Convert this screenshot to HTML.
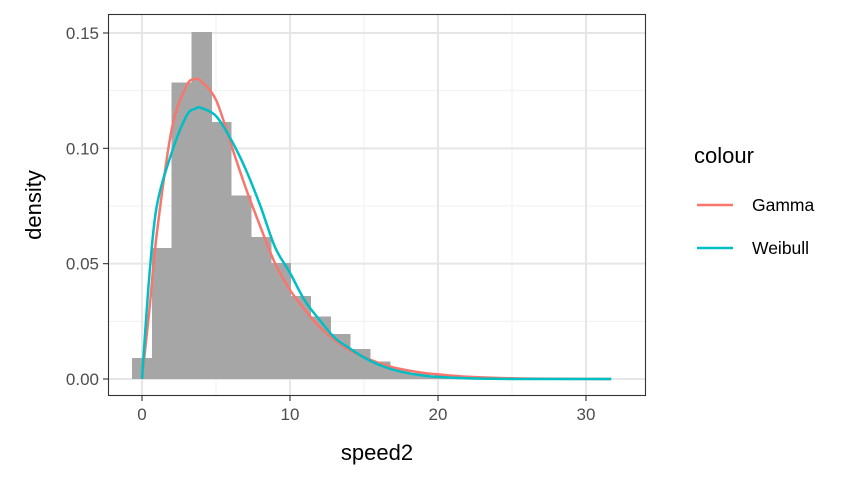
<!DOCTYPE html>
<html><head><meta charset="utf-8"><style>
body{margin:0;background:#fff}
svg{display:block;font-family:"Liberation Sans",Arial,sans-serif}
</style></head><body>
<svg id="chart" width="864" height="480">
<g id="grid"></g>
<g id="bars" shape-rendering="crispEdges"></g>
<g id="lines"></g>
<rect x="108.5" y="14.5" width="537" height="381" fill="none" stroke="#333" stroke-width="1.1"/>
<g id="axes"></g>
<text x="377" y="460" font-size="22" text-anchor="middle" fill="#000">speed2</text>
<text transform="translate(41,205) rotate(-90)" font-size="22" text-anchor="middle" fill="#000">density</text>
<g>
<text x="694" y="163" font-size="22" fill="#000">colour</text>
<g><line x1="697" y1="205" x2="733" y2="205" stroke="#F8766D" stroke-width="2.5"/><text x="752" y="211" font-size="17.5" fill="#000">Gamma</text></g>
<g><line x1="697" y1="248" x2="733" y2="248" stroke="#00BFC4" stroke-width="2.5"/><text x="752" y="254" font-size="17.5" fill="#000">Weibull</text></g>
</g>
</svg>
<script>
const binWidth = 1.34;
const binDensity = [0.0092,0.0568,0.1285,0.1504,0.1114,0.0795,0.0616,0.0502,0.036,0.027,0.0195,0.013,0.0075,0.004,0.0025,0.0015,0.001,0.0006,0.0004,0.0003,0.0002,0.0001,0.0001,0.0001];
const curveX = [0,0.5,1,2,3,3.6,4,5,6,7,8,9,10,11,12,13,14,15,16,17,18,19,20,22,25,28,31.7];
const gammaY = [0,0.03,0.063,0.108,0.127,0.130,0.129,0.121,0.102,0.083,0.066,0.050,0.0386,0.030,0.0226,0.017,0.0126,0.0095,0.007,0.005,0.0037,0.0027,0.002,0.001,0.0003,0.0001,0];
const weibullY = [0,0.045,0.075,0.098,0.114,0.1172,0.1175,0.114,0.104,0.091,0.075,0.057,0.046,0.034,0.0256,0.018,0.0134,0.0093,0.0062,0.004,0.0025,0.0015,0.0009,0.0003,0,0,0];
const xTicks = [0,10,20,30];
const yTicks = [0,0.05,0.10,0.15];
const yTickLabels = ["0.00","0.05","0.10","0.15"];
const NS="http://www.w3.org/2000/svg";
const sx = v => 142 + v*14.8;
const sy = v => 379 - v*2306.7;
function mk(tag, attrs, parent){const e=document.createElementNS(NS,tag);for(const k in attrs)e.setAttribute(k,attrs[k]);parent.appendChild(e);return e;}
const grid=document.getElementById('grid'), bars=document.getElementById('bars'), lines=document.getElementById('lines'), axes=document.getElementById('axes');
[5,15,25].forEach(v=>{const l=mk('line',{x1:sx(v),x2:sx(v),y1:14,y2:396,stroke:'#f0f0f0','stroke-width':1},grid);

});
[0.025,0.075,0.125].forEach(v=>{const l=mk('line',{x1:108,x2:646,y1:sy(v),y2:sy(v),stroke:'#f0f0f0','stroke-width':1},grid);

});
xTicks.forEach(v=>{const l=mk('line',{x1:sx(v),x2:sx(v),y1:14,y2:396,stroke:'#e6e6e6','stroke-width':2},grid);


const t=mk('line',{x1:sx(v),x2:sx(v),y1:396,y2:401,stroke:'#333','stroke-width':1.1},axes);


const tx=mk('text',{x:sx(v),y:420,'font-size':17,'text-anchor':'middle',fill:'#4d4d4d'},axes);tx.textContent=v;

});
yTicks.forEach((v,i)=>{const l=mk('line',{x1:108,x2:646,y1:sy(v),y2:sy(v),stroke:'#e6e6e6','stroke-width':2},grid);


const t=mk('line',{x1:103,x2:108,y1:sy(v),y2:sy(v),stroke:'#333','stroke-width':1.1},axes);


const tx=mk('text',{x:99,y:sy(v)+6,'font-size':17,'text-anchor':'end',fill:'#4d4d4d'},axes);tx.textContent=yTickLabels[i];

});
binDensity.forEach((d,i)=>{const x0=(i-0.5)*binWidth;const r=mk('rect',{x:sx(x0),y:sy(d),width:binWidth*14.8+0.5,height:sy(0)-sy(d),fill:'#a6a6a6'},bars);

});
function path(ys,color,name){
const P=curveX.map((x,i)=>[sx(x),sy(ys[i])]);
let d='M'+P[0][0].toFixed(1)+','+P[0][1].toFixed(1);
for(let i=0;i<P.length-1;i++){const p0=P[Math.max(0,i-1)],p1=P[i],p2=P[i+1],p3=P[Math.min(P.length-1,i+2)];
const c1=[p1[0]+(p2[0]-p0[0])/6,p1[1]+(p2[1]-p0[1])/6],c2=[p2[0]-(p3[0]-p1[0])/6,p2[1]-(p3[1]-p1[1])/6];
d+='C'+c1.map(v=>v.toFixed(1)).join(',')+' '+c2.map(v=>v.toFixed(1)).join(',')+' '+p2[0].toFixed(1)+','+p2[1].toFixed(1);}
const p=mk('path',{d:d,fill:'none',stroke:color,'stroke-width':2.5,'stroke-linejoin':'round'},lines);

}
path(gammaY,'#F8766D','gamma-line');
path(weibullY,'#00BFC4','weibull-line');
</script>
</body></html>
